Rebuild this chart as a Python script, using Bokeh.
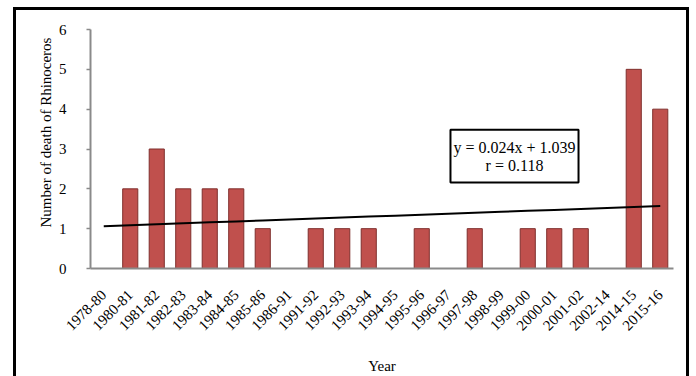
import math

from bokeh.embed import file_html
from bokeh.models import ColumnDataSource, FactorRange, Label, Range1d, Title
from bokeh.plotting import figure
from bokeh.resources import INLINE

# Rhinoceros deaths per reporting period
years = ["1978-80", "1980-81", "1981-82", "1982-83", "1983-84", "1984-85",
         "1985-86", "1986-91", "1991-92", "1992-93", "1993-94", "1994-95",
         "1995-96", "1996-97", "1997-98", "1998-99", "1999-00", "2000-01",
         "2001-02", "2002-14", "2014-15", "2015-16"]
deaths = [0, 2, 3, 2, 2, 2, 1, 0, 1, 1, 1, 0, 1, 0, 1, 0, 1, 1, 1, 0, 5, 4]

# Linear trend fitted over the period index (1..n)
slope = 0.024
intercept = 1.039
r_value = 0.118

y_ticks = [0, 1, 2, 3, 4, 5, 6]

FONT = "Liberation Serif"

p = figure(
    width=670, height=366,
    x_range=FactorRange(*years, range_padding=0),
    y_range=Range1d(0, 6),
    output_backend="svg", toolbar_location=None,
    min_border_left=74, min_border_right=13,
    min_border_top=19, min_border_bottom=107,
)
# Chart sits inside a black frame (bottom edge runs off the page)
p.margin = (10, 0, 0, 16)
p.styles = {"box-shadow": "0 0 0 3px black", "background": "white"}

p.outline_line_color = None
p.background_fill_color = "white"
p.border_fill_color = "white"
p.xgrid.grid_line_color = None
p.ygrid.grid_line_color = None

# Bars (periods with no deaths draw nothing)
bar_years = [y for y, d in zip(years, deaths) if d > 0]
bar_vals = [d for d in deaths if d > 0]
src = ColumnDataSource(dict(year=bar_years, deaths=bar_vals))
p.vbar(x="year", top="deaths", width=0.57, bottom=0, source=src,
       fill_color="#C0504D", line_color="#7F2F2D", line_width=1)

# Trend line across all periods
idx = list(range(1, len(years) + 1))
trend = [slope * i + intercept for i in idx]
p.line(x=years, y=trend, line_color="black", line_width=2)

# Axes styling
axis_gray = "#8A8A8A"
p.yaxis.ticker = y_ticks
p.yaxis.axis_line_color = axis_gray
p.yaxis.axis_line_width = 2
p.yaxis.major_tick_line_color = axis_gray
p.yaxis.major_tick_line_width = 1.5
p.yaxis.major_tick_in = 0
p.yaxis.major_tick_out = 4
p.yaxis.minor_tick_line_color = None
p.yaxis.major_label_standoff = 20
p.yaxis.major_label_text_font = FONT
p.yaxis.major_label_text_font_size = "15px"
p.yaxis.major_label_text_color = "black"

p.xaxis.axis_line_color = axis_gray
p.xaxis.axis_line_width = 2
p.xaxis.major_tick_line_color = None
p.xaxis.major_tick_in = 0
p.xaxis.major_tick_out = 0
p.xaxis.minor_tick_line_color = None
p.xaxis.major_label_orientation = math.pi / 4
p.xaxis.major_label_standoff = 24
p.xaxis.major_label_text_font = FONT
p.xaxis.major_label_text_font_size = "15px"
p.xaxis.major_label_text_color = "black"

p.xaxis.axis_label = "Year"
p.xaxis.axis_label_standoff = 20
p.xaxis.axis_label_text_font = FONT
p.xaxis.axis_label_text_font_size = "15px"
p.xaxis.axis_label_text_font_style = "normal"
p.xaxis.axis_label_text_color = "black"

# Vertical axis title, set a little above the middle of the axis
p.add_layout(Title(text="Number of death of Rhinoceros", align="left",
                   offset=41, standoff=4, text_font=FONT,
                   text_font_size="15px", text_font_style="normal",
                   text_color="black"), "left")

# Regression equation box
p.add_layout(Label(x=16.0, y=2.82,
                   text=f"y = {slope:.3f}x + {intercept:.3f}\nr = {r_value:.3f}",
                   text_align="center", text_baseline="middle",
                   text_font=FONT, text_font_size="16px", text_color="black",
                   text_line_height=1.05,
                   background_fill_color="white", border_line_color="black",
                   border_line_width=2, padding=(3, 9)))

open("out.html", "w").write(file_html(p, INLINE))
